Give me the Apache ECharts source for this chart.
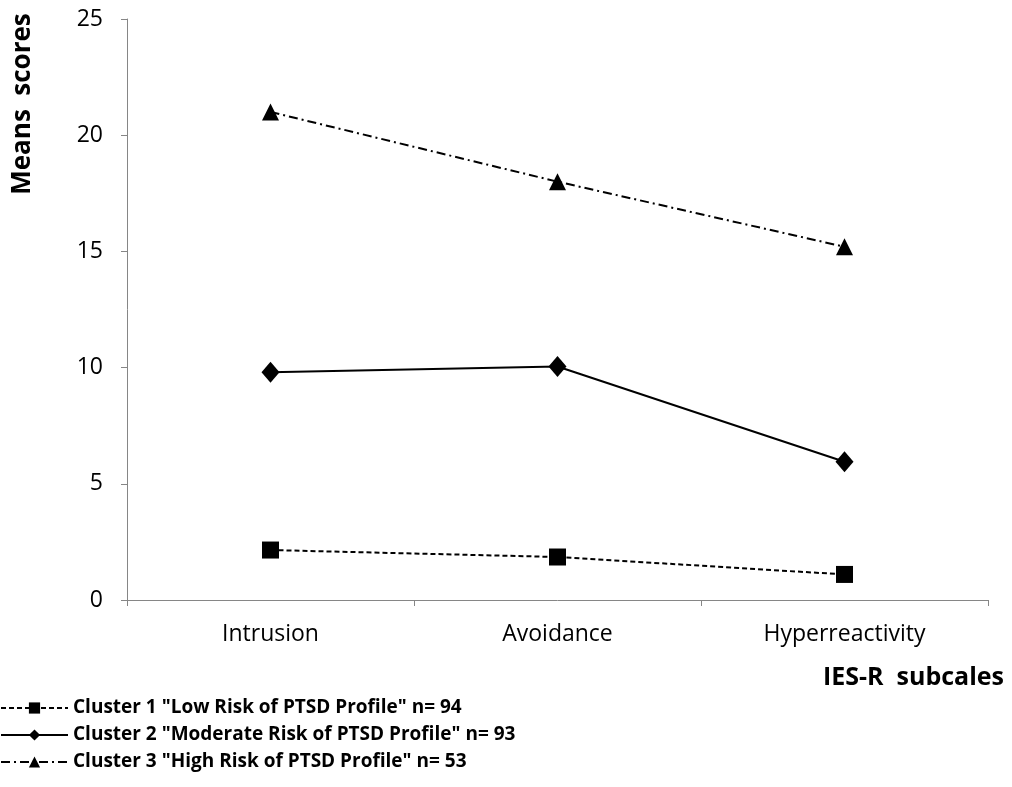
<!DOCTYPE html>
<html>
<head>
<meta charset="utf-8">
<script src="https://cdn.jsdelivr.net/npm/echarts@6/dist/echarts.min.js"></script>
<style>
html,body{margin:0;padding:0;background:#fff;}
#chart{width:1012px;height:787px;}
</style>
</head>
<body>
<div id="chart"></div>
<script>
const categories = ['Intrusion', 'Avoidance', 'Hyperreactivity'];
const seriesNames = [
  'Cluster 1 "Low Risk of PTSD Profile" n= 94',
  'Cluster 2 "Moderate Risk of PTSD Profile" n= 93',
  'Cluster 3 "High Risk of PTSD Profile" n= 53'
];
const cluster1 = [2.15, 1.85, 1.1];
const cluster2 = [9.8, 10.05, 5.95];
const cluster3 = [21.0, 18.0, 15.2];
const yTicks = [0, 5, 10, 15, 20, 25];
const xTitle = 'IES-R  subcales';
const yTitle = 'Means  scores';

const FONT = '"Open Sans", Lato, sans-serif';
const chart = echarts.init(document.getElementById('chart'), null, {renderer: 'canvas'});
chart.setOption({
  animation: false,
  backgroundColor: '#fff',
  grid: {left: 127, right: 24, top: 19, bottom: 187, containLabel: false},
  legend: {
    orient: 'vertical',
    left: 0,
    top: 698,
    padding: 0,
    itemWidth: 67,
    itemHeight: 14,
    itemGap: 7,
    textStyle: {fontFamily: FONT, fontSize: 19, fontWeight: 'bold', color: '#000', lineHeight: 20},
    data: seriesNames
  },
  graphic: [{
    type: 'text',
    x: 23,
    y: 104,
    rotation: Math.PI / 2,
    style: {
      text: yTitle,
      font: 'bold 26px "Open Sans", Lato, sans-serif',
      fill: '#000',
      textAlign: 'center',
      textVerticalAlign: 'middle'
    }
  }],
  xAxis: {
    type: 'category',
    data: categories,
    boundaryGap: true,
    name: xTitle,
    nameLocation: 'end',
    nameGap: 16,
    nameTextStyle: {fontFamily: FONT, fontSize: 25, fontWeight: 'bold', color: '#000', align: 'right', verticalAlign: 'top', padding: [65, 0, 0, 0]},
    axisLine: {show: true, lineStyle: {color: '#868686', width: 1}},
    axisTick: {show: true, length: 6, inside: false, alignWithLabel: false, lineStyle: {color: '#868686'}},
    axisLabel: {fontFamily: FONT, fontSize: 23, color: '#000', margin: 23},
    splitLine: {show: false}
  },
  yAxis: {
    type: 'value',
    min: yTicks[0],
    max: yTicks[yTicks.length - 1],
    interval: yTicks[1] - yTicks[0],
    axisLine: {show: true, lineStyle: {color: '#868686', width: 1}},
    axisTick: {show: true, length: 6, inside: false, lineStyle: {color: '#868686'}},
    axisLabel: {fontFamily: FONT, fontSize: 23, color: '#000', margin: 24},
    splitLine: {show: false}
  },
  series: [
    {
      name: seriesNames[0], type: 'line', data: cluster1,
      symbol: 'rect', symbolSize: 17,
      itemStyle: {color: '#000'},
      lineStyle: {color: '#000', width: 2, type: [5, 3]}
    },
    {
      name: seriesNames[1], type: 'line', data: cluster2,
      symbol: 'diamond', symbolSize: [18, 21],
      itemStyle: {color: '#000'},
      lineStyle: {color: '#000', width: 2, type: 'solid'}
    },
    {
      name: seriesNames[2], type: 'line', data: cluster3,
      symbol: 'triangle', symbolSize: 17,
      itemStyle: {color: '#000'},
      lineStyle: {color: '#000', width: 2, type: [9, 4, 2, 4]}
    }
  ]
});
</script>
</body>
</html>
